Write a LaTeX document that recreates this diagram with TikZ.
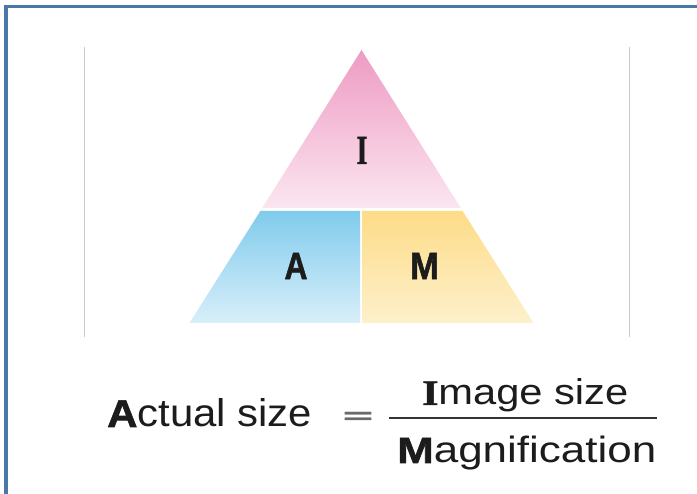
\documentclass[tikz,border=0pt]{standalone}
\usepackage{fontspec}
\setmainfont{Liberation Sans}
\newfontfamily\seriff{Liberation Serif}
\newfontface\heavy{Liberation Sans Bold}[RawFeature={embolden=1.6}]
\newfontface\heavyserif{Liberation Serif Bold}[RawFeature={embolden=1.2}]
\definecolor{framebl}{HTML}{4A77AA}
\definecolor{guide}{HTML}{C9C9C9}
\definecolor{pinkT}{HTML}{EE9BC3}
\definecolor{pinkB}{HTML}{FBE6F0}
\definecolor{blueT}{HTML}{80CBEC}
\definecolor{blueB}{HTML}{D9EFFA}
\definecolor{yelT}{HTML}{FDDC88}
\definecolor{yelB}{HTML}{FDF0CB}
\definecolor{ink}{HTML}{1C1C1C}
\definecolor{eqgray}{HTML}{6A6A6A}
\begin{document}
\begin{tikzpicture}[x=1pt,y=-1pt,
  lbl/.style={inner sep=0pt,text=ink},
  eqtxt/.style={inner sep=0pt,anchor=base west,text=ink},
  guideline/.style={draw=guide,line width=0.9pt}]
\useasboundingbox (0,0) rectangle (697,494);
\fill[white] (0,0) rectangle (697,494);
% frame (top and left only visible)
\coordinate (fb) at (5.8,494);
\coordinate (fc) at (5.8,6.5);
\coordinate (fr) at (697,6.5);
\draw[framebl,line width=3.4pt] (fb) -- (fc) -- (fr);
% guide lines
\coordinate (g1t) at (84,47);
\coordinate (g1b) at (84,337);
\coordinate (g2t) at (629,47);
\coordinate (g2b) at (629,337);
\draw[guideline] (g1t) -- (g1b);
\draw[guideline] (g2t) -- (g2b);
% triangle parts
\coordinate (apex) at (361.5,50);
\coordinate (tl) at (262.2,208);
\coordinate (tr) at (460.8,208);
\shade[top color=pinkT,bottom color=pinkB] (apex) -- (tr) -- (tl) -- cycle;
\coordinate (bl1) at (260.4,211);
\coordinate (bl2) at (360.2,211);
\coordinate (bl3) at (360.2,323);
\coordinate (bl4) at (189.5,323);
\shade[top color=blueT,bottom color=blueB] (bl1) -- (bl2) -- (bl3) -- (bl4) -- cycle;
\coordinate (yl1) at (362.2,211);
\coordinate (yl2) at (462.6,211);
\coordinate (yl3) at (533.5,323);
\coordinate (yl4) at (362.2,323);
\shade[top color=yelT,bottom color=yelB] (yl1) -- (yl2) -- (yl3) -- (yl4) -- cycle;
% letters
\node[lbl] (I) at (362,150.5) {\resizebox{11pt}{27pt}{\heavyserif I}};
\node[lbl] (A) at (296,266) {\resizebox{23pt}{26pt}{\heavy A}};
\node[lbl] (M) at (424.5,266) {\resizebox{29pt}{26pt}{\heavy M}};
% formula
\node[eqtxt] (act) at (107,427) {\resizebox{205pt}{28pt}{{\heavy A}ctual size}};
\node[inner sep=0pt,text=eqgray,anchor=center] (eq) at (358,417.5) {\resizebox{30pt}{11pt}{\heavy =}};
\node[eqtxt] (img) at (422,405) {\resizebox{206pt}{26pt}{{\heavyserif I}mage size}};
\node[eqtxt] (mag) at (397,463) {\resizebox{259pt}{26.5pt}{{\heavy M}agnification}};
\coordinate (fl) at (389,418);
\coordinate (fr2) at (657,418);
\draw[ink!90,line width=2pt] (fl) -- (fr2);
\end{tikzpicture}
\end{document}
